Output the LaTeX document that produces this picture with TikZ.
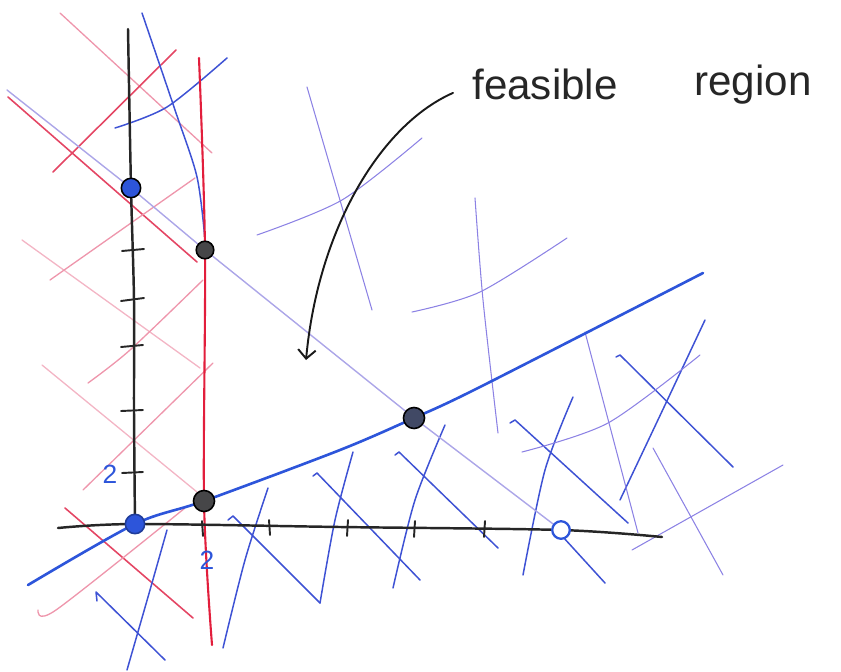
\documentclass[tikz,border=0pt]{standalone}
\usepackage{fontspec}
\setmainfont{Liberation Sans}
\usetikzlibrary{arrows.meta,calc}

\definecolor{redline}{RGB}{226,30,60}
\definecolor{redhatch}{RGB}{228,70,100}
\definecolor{pinkhatch}{RGB}{238,150,172}
\definecolor{bluemain}{RGB}{45,85,218}
\definecolor{bluehatch}{RGB}{62,82,212}
\definecolor{purphatch}{RGB}{140,130,228}
\definecolor{diagline}{RGB}{172,166,232}
\definecolor{dotgray}{RGB}{70,70,72}

\begin{document}
\begin{tikzpicture}[x=0.02cm,y=-0.02cm,>={Straight Barb[length=5pt,width=10pt]},
  line cap=round,line join=round,
  axis/.style={line width=1.4pt,black!85},
  tickmark/.style={line width=1.1pt,black!85},
  redhat/.style={line width=0.9pt,redhatch},
  pinkhat/.style={line width=0.75pt,pinkhatch},
  bluehat/.style={line width=0.85pt,bluehatch},
  purphat/.style={line width=0.6pt,purphatch},
  dot/.style={circle,draw=black,line width=0.9pt,inner sep=0pt,minimum size=11pt},
  numlabel/.style={text=bluemain,font=\fontsize{15}{17}\selectfont}]
  \useasboundingbox (0,0) rectangle (841,672);

  % corner points of the region
  \coordinate (pA) at (131,188);
  \coordinate (pB) at (205,250);
  \coordinate (pC) at (414,418);
  \coordinate (pD) at (204,501);
  \coordinate (pO) at (135,524);
  \coordinate (pE) at (561,530);

  % hatching, x >= 2
  \draw[pinkhat] (60,13) -- (212,153);
  \draw[redhat] (53,172) -- (176,50);
  \draw[redhat] (8,97) -- (197,262);
  \draw[pinkhat] (50,280) -- (195,178);
  \draw[pinkhat,opacity=0.7] (22,240) -- (200,368);
  \draw[pinkhat] plot[smooth] coordinates {(88,383) (130,350) (203,280)};
  \draw[pinkhat,opacity=0.7] (42,365) -- (197,492);
  \draw[pinkhat] (83,490) -- (213,363);
  \draw[redhat] (65,508) -- (193,618);
  \draw[pinkhat] plot[smooth] coordinates {(38,610) (56,610) (185,508)};

  % hatching, lower blue line
  \draw[bluehat] plot[smooth] coordinates {(142,13) (175,110) (197,177) (205,240)};
  \draw[bluehat] plot[smooth] coordinates {(115,128) (167,107) (227,58)};
  \draw[bluehat] (97,601) -- (96,592) -- (165,660);
  \draw[bluehat] plot[smooth] coordinates {(167,530) (150,590) (127,670)};
  \draw[bluehat] plot[smooth] coordinates {(268,488) (245,560) (223,648)};
  \draw[bluehat] (228,520) -- (233,516) -- (320,603);
  \draw[bluehat] plot[smooth] coordinates {(353,452) (335,520) (320,603)};
  \draw[bluehat] (313,476) -- (317,473) -- (420,580);
  \draw[bluehat] plot[smooth] coordinates {(445,425) (415,500) (393,588)};
  \draw[bluehat] (395,455) -- (399,452) -- (498,548);
  \draw[bluehat] plot[smooth] coordinates {(573,397) (545,470) (523,575)};
  \draw[bluehat] (510,423) -- (515,420) -- (628,523);
  \draw[bluehat] plot[smooth] coordinates {(705,320) (665,405) (620,500)};
  \draw[bluehat] (616,357) -- (620,355) -- (733,467);
  \draw[bluehat] (563,537) -- (605,583);

  % hatching, diagonal line
  \draw[purphat] (307,87) -- (372,310);
  \draw[purphat] plot[smooth] coordinates {(257,235) (342,200) (422,138)};
  \draw[purphat] plot[smooth] coordinates {(475,198) (483,300) (498,433)};
  \draw[purphat] plot[smooth] coordinates {(412,312) (480,292) (567,238)};
  \draw[purphat] (585,332) -- (638,533);
  \draw[purphat] plot[smooth] coordinates {(522,452) (608,423) (700,355)};
  \draw[purphat] (653,448) -- (723,575);
  \draw[purphat] (632,550) -- (783,465);

  % constraints
  \draw[line width=0.8pt,diagline] (7,90) -- (pA) -- (pB) -- (pC) -- (pE);
  \draw[line width=1.2pt,redline] plot[smooth] coordinates {(199,58) (pB) (pD) (212,645)};
  \draw[line width=1.5pt,bluemain] plot[smooth] coordinates {(28,585) (pO) (pD) (340,450) (pC) (480,387) (703,273)};

  % axes
  \draw[axis] plot[smooth] coordinates {(128,29) (pA) (134,300) (134,410) (pO)};
  \draw[axis] plot[smooth] coordinates {(58,528) (pO) (340,527) (pE) (662,537)};
  \draw[tickmark] (122,251) -- (144,249) (121,301) -- (144,298) (121,347) -- (143,345)
    (121,411) -- (143,410) (122,473) -- (143,472);
  \draw[tickmark] (202,521) -- (203,536) (269,520) -- (270,535) (348,520) -- (347,536)
    (415,521) -- (414,537) (485,521) -- (484,537);
  \node[numlabel] (ytick) at (110,474) {2};
  \node[numlabel] (xtick) at (207,560) {2};

  % corner points
  \node[dot,fill=bluemain] (A) at (pA) {};
  \node[dot,fill=dotgray,minimum size=10pt] (B) at (pB) {};
  \node[dot,fill=dotgray!80!bluemain,minimum size=12pt] (C) at (pC) {};
  \node[dot,fill=dotgray,minimum size=12pt] (D) at (pD) {};
  \node[dot,fill=bluemain,draw=bluemain!70!black] (O) at (pO) {};
  \node[dot,fill=white,draw=bluemain,line width=1.3pt,minimum size=10pt] (E) at (pE) {};

  % label
  \node[anchor=base west,inner sep=0pt,text=black!85,font=\fontsize{24}{28}\selectfont] (feas) at (472,100) {feasible};
  \node[anchor=base west,inner sep=0pt,text=black!85,font=\fontsize{24}{28}\selectfont] (reg) at (694,96) {region};
  \coordinate (tip) at (306,360);
  \draw[->,line width=1.1pt,black!90] ($(feas.west)+(-19,8)$) .. controls (380,125) and (318,230) .. (tip);
\end{tikzpicture}
\end{document}
